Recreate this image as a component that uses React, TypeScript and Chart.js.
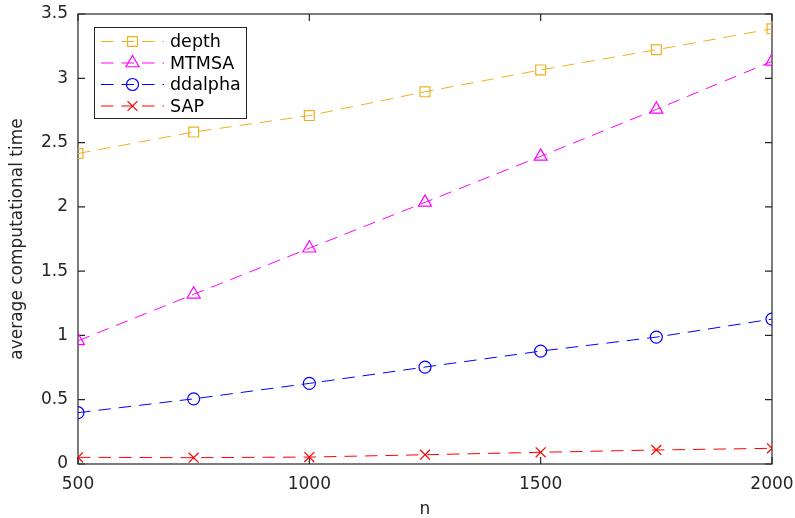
import { useEffect, useRef } from 'react';
import { Chart, registerables } from 'chart.js';

Chart.register(...registerables);

// ---- data ----
const nValues = [500, 750, 1000, 1250, 1500, 1750, 2000];
const depthTimes = [2.415, 2.582, 2.71, 2.895, 3.065, 3.222, 3.385];
const mtmsaTimes = [0.958, 1.32, 1.678, 2.035, 2.393, 2.758, 3.132];
const ddalphaTimes = [0.399, 0.507, 0.627, 0.754, 0.878, 0.987, 1.127];
const sapTimes = [0.052, 0.049, 0.054, 0.072, 0.091, 0.109, 0.122];
const seriesNames = ['depth', 'MTMSA', 'ddalpha', 'SAP'];
const xTickValues = [500, 1000, 1500, 2000];
const yTickValues = [0, 0.5, 1, 1.5, 2, 2.5, 3, 3.5];
const xAxisTitle = 'n';
const yAxisTitle = 'average computational time';

// ---- styles ----
const FONT = '"DejaVu Sans", "Liberation Sans", Arial, sans-serif';
const TEXT_COLOR = '#262626';
const DASH = [12.5, 8];
const TICK_LEN = 7;
const seriesStyles = [
  { color: '#EDB120', pointStyle: 'rect', radius: 7 },
  { color: '#FF00FF', pointStyle: 'triangle', radius: 7.5 },
  { color: '#0000FF', pointStyle: 'circle', radius: 6 },
  { color: '#FF0000', pointStyle: 'crossRot', radius: 7 },
];
const seriesValues = [depthTimes, mtmsaTimes, ddalphaTimes, sapTimes];

function drawMarker(ctx: CanvasRenderingContext2D, style: string, x: number, y: number, r: number) {
  ctx.beginPath();
  if (style === 'rect') {
    const s = Math.SQRT1_2 * r;
    ctx.rect(x - s, y - s, 2 * s, 2 * s);
  } else if (style === 'triangle') {
    ctx.moveTo(x, y - r);
    ctx.lineTo(x + 0.866 * r, y + 0.5 * r);
    ctx.lineTo(x - 0.866 * r, y + 0.5 * r);
    ctx.closePath();
  } else if (style === 'circle') {
    ctx.arc(x, y, r, 0, Math.PI * 2);
  } else {
    const o = Math.SQRT1_2 * r;
    ctx.moveTo(x - o, y - o);
    ctx.lineTo(x + o, y + o);
    ctx.moveTo(x + o, y - o);
    ctx.lineTo(x - o, y + o);
  }
  ctx.stroke();
}

const axesBoxPlugin = {
  id: 'axesBox',
  beforeDatasetsDraw(chart: any) {
    const { ctx, chartArea, scales } = chart;
    const { left, right, top, bottom } = chartArea;
    ctx.save();
    ctx.strokeStyle = TEXT_COLOR;
    ctx.lineWidth = 1.2;
    ctx.setLineDash([]);
    ctx.beginPath();
    for (const v of xTickValues) {
      const px = scales.x.getPixelForValue(v);
      ctx.moveTo(px, bottom);
      ctx.lineTo(px, bottom - TICK_LEN);
      ctx.moveTo(px, top);
      ctx.lineTo(px, top + TICK_LEN);
    }
    for (const v of yTickValues) {
      const py = scales.y.getPixelForValue(v);
      ctx.moveTo(left, py);
      ctx.lineTo(left + TICK_LEN, py);
      ctx.moveTo(right, py);
      ctx.lineTo(right - TICK_LEN, py);
    }
    ctx.stroke();
    ctx.strokeRect(left, top, right - left, bottom - top);
    ctx.restore();
  },
};

const LEG = { x: 94.5, y: 27.5, w: 152, h: 91, firstY: 41.5, step: 21.5, lineX0: 101, lineX1: 164, markX: 132.5, textX: 170 };

const legendPlugin = {
  id: 'matlabLegend',
  afterDraw(chart: any) {
    const { ctx } = chart;
    ctx.save();
    ctx.fillStyle = '#ffffff';
    ctx.fillRect(LEG.x, LEG.y, LEG.w, LEG.h);
    ctx.strokeStyle = TEXT_COLOR;
    ctx.lineWidth = 1;
    ctx.setLineDash([]);
    ctx.strokeRect(LEG.x, LEG.y, LEG.w, LEG.h);
    chart.data.datasets.forEach((ds: any, i: number) => {
      const st = seriesStyles[i];
      const cy = LEG.firstY + i * LEG.step;
      ctx.strokeStyle = st.color;
      ctx.lineWidth = 1;
      ctx.setLineDash(DASH);
      ctx.beginPath();
      ctx.moveTo(LEG.lineX0, cy);
      ctx.lineTo(LEG.lineX1, cy);
      ctx.stroke();
      ctx.setLineDash([]);
      ctx.lineWidth = 1.2;
      drawMarker(ctx, st.pointStyle, LEG.markX, cy, st.radius);
      ctx.fillStyle = '#000000';
      ctx.font = `17.5px ${FONT}`;
      ctx.textBaseline = 'middle';
      ctx.textAlign = 'left';
      ctx.fillText(ds.label, LEG.textX, cy + 1);
    });
    ctx.restore();
  },
};

export default function App() {
  const canvasRef = useRef<HTMLCanvasElement | null>(null);

  useEffect(() => {
    document.body.style.margin = '0';
    document.body.style.overflow = 'hidden';
    const canvas = canvasRef.current;
    if (!canvas) return;

    const datasets = seriesNames.map((name, i) => ({
      label: name,
      data: nValues.map((n, j) => ({ x: n, y: seriesValues[i][j] })),
      borderColor: seriesStyles[i].color,
      backgroundColor: 'rgba(0,0,0,0)',
      borderWidth: 1,
      borderDash: DASH,
      pointStyle: seriesStyles[i].pointStyle,
      pointRadius: seriesStyles[i].radius,
      pointBorderColor: seriesStyles[i].color,
      pointBackgroundColor: 'rgba(0,0,0,0)',
      pointBorderWidth: 1.2,
      fill: false,
      tension: 0,
    }));

    const chart = new Chart(canvas, {
      type: 'line',
      data: { datasets },
      plugins: [axesBoxPlugin, legendPlugin],
      options: {
        animation: false,
        responsive: true,
        maintainAspectRatio: false,
        layout: { padding: { left: 0, top: 14, right: 23, bottom: 0 } },
        plugins: { legend: { display: false }, tooltip: { enabled: false } },
        scales: {
          x: {
            type: 'linear',
            min: 500,
            max: 2000,
            afterBuildTicks: (scale: any) => {
              scale.ticks = xTickValues.map((v) => ({ value: v }));
            },
            afterFit: (scale: any) => {
              scale.height = 54;
              scale.paddingLeft = 0;
              scale.paddingRight = 0;
            },
            grid: { display: false, drawTicks: false },
            border: { display: false },
            ticks: {
              padding: 10,
              color: TEXT_COLOR,
              font: { family: FONT, size: 17 },
              maxRotation: 0,
              callback: (v: any) => String(v),
            },
            title: {
              display: true,
              text: xAxisTitle,
              color: TEXT_COLOR,
              font: { family: FONT, size: 17, lineHeight: 1 },
              padding: { top: 0, bottom: 0 },
            },
          },
          y: {
            type: 'linear',
            min: 0,
            max: 3.5,
            afterBuildTicks: (scale: any) => {
              scale.ticks = yTickValues.map((v) => ({ value: v }));
            },
            afterFit: (scale: any) => {
              scale.width = 78;
              scale.paddingTop = 0;
              scale.paddingBottom = 0;
            },
            grid: { display: false, drawTicks: false },
            border: { display: false },
            ticks: {
              padding: 10,
              color: TEXT_COLOR,
              font: { family: FONT, size: 17 },
              callback: (v: any) => String(v),
            },
            title: {
              display: true,
              text: yAxisTitle,
              color: TEXT_COLOR,
              font: { family: FONT, size: 17, lineHeight: 1 },
              padding: { top: 9, bottom: 0 },
            },
          },
        },
      } as any,
    });

    return () => chart.destroy();
  }, []);

  return (
    <div style={{ position: 'relative', width: 795, height: 518, background: '#ffffff' }}>
      <canvas ref={canvasRef} />
    </div>
  );
}
